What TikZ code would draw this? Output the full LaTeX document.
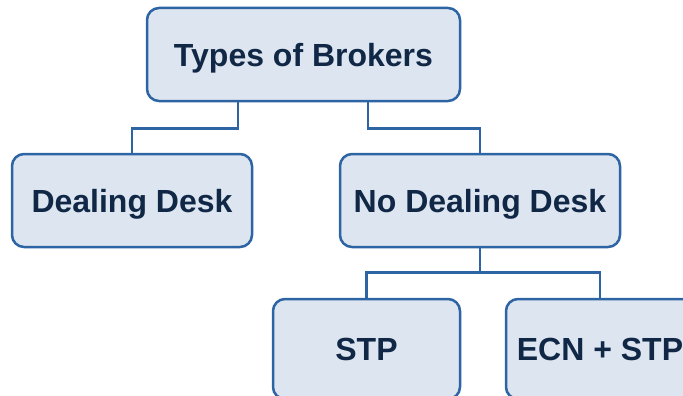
\documentclass[tikz,border=0pt]{standalone}
\usepackage{fontspec}
\setmainfont{Liberation Sans}
\usetikzlibrary{positioning,calc}
\definecolor{boxline}{RGB}{44,100,164}
\definecolor{boxfill}{RGB}{221,229,240}
\definecolor{boxtext}{RGB}{16,40,70}
\begin{document}
\begin{tikzpicture}[
    brokerbox/.style={
       rectangle,
       rounded corners=12pt,
       draw=boxline,
       fill=boxfill,
       line width=2.5pt,
       text=boxtext,
       inner sep=0pt,
       text depth=0pt,
       minimum height=93pt,
       font=\fontsize{32}{38}\selectfont\bfseries},
    myline/.style={draw=boxline,line width=2.5pt},
    node distance=50.5pt and 0pt
    ]
    \useasboundingbox (0,0) rectangle (683pt,-396pt);
    \node[brokerbox,minimum width=313pt] (types) at (303.5pt,-54.5pt) {Types of Brokers};
    \node[brokerbox,minimum width=240pt,below=of types,xshift=-171.5pt] (dd) {Dealing Desk};
    \node[brokerbox,minimum width=280pt,below=of types,xshift=176.5pt] (ndd) {No Dealing Desk};
    \node[brokerbox,minimum width=187pt,minimum height=100pt,below=49.5pt of ndd,xshift=-113.5pt] (stp) {STP};
    \node[brokerbox,minimum width=188pt,minimum height=100pt,below=49.5pt of ndd,xshift=120pt] (ecn) {ECN + STP};

  % elbow connectors
  \draw [myline] ([xshift=-65.5pt]types.south) -- ++(0,-26pt) -| (dd.north);
  \draw [myline] ([xshift=64.5pt]types.south) -- ++(0,-26pt) -| (ndd.north);
  \foreach \j in {stp,ecn}
     \draw [myline] (ndd.south) -- ++(0,-24pt) -| (\j.north);
  \end{tikzpicture}
\end{document}
